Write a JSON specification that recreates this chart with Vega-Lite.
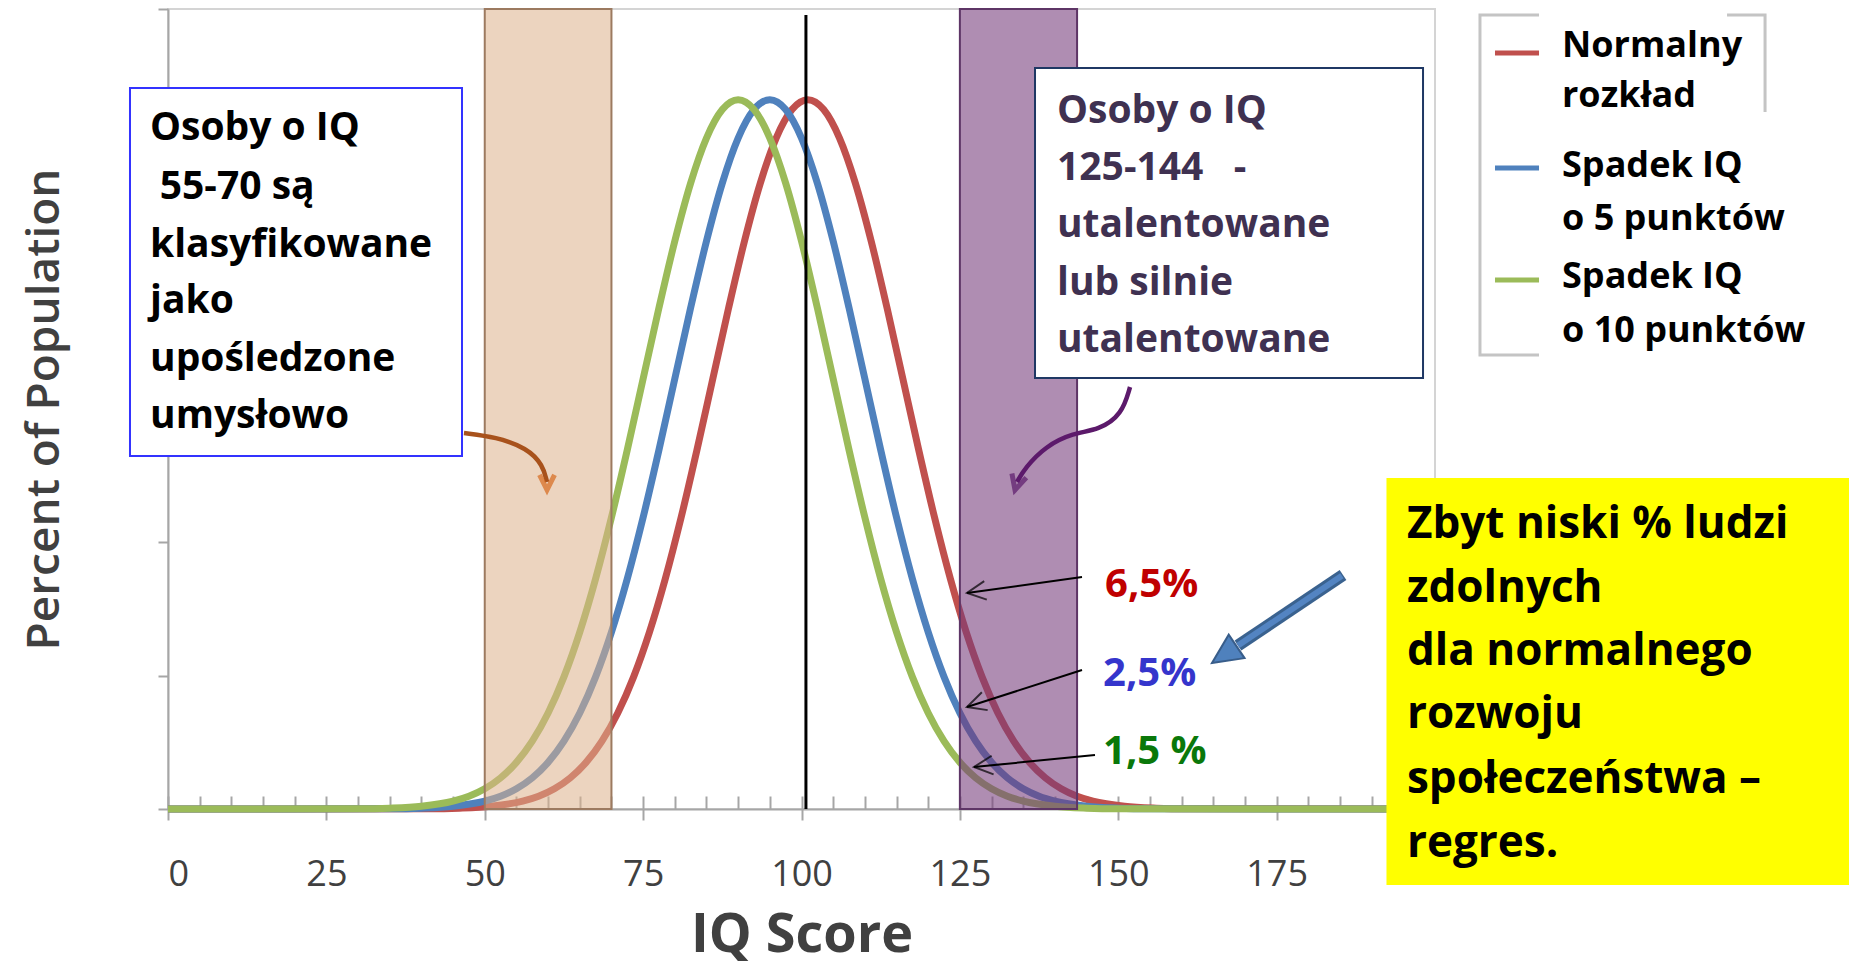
{
  "$schema": "https://vega.github.io/schema/vega-lite/v6.json",
  "width": 1267,
  "height": 800,
  "autosize": {"type": "none"},
  "padding": {"left": 168, "top": 9, "right": 414, "bottom": 158},
  "background": "white",
  "config": {"view": {"stroke": "#d4d4d4", "strokeWidth": 2}, "font": "Open Sans"},
  "resolve": {"axis": {"x": "independent", "y": "independent"}, "scale": {"color": "independent"}},
  "layer": [
    {
      "data": {"values": [
        {"s": "Normalny rozkład", "iq": 0, "p": 0},
        {"s": "Normalny rozkład", "iq": 41, "p": 0.000009},
        {"s": "Normalny rozkład", "iq": 46, "p": 0.000032},
        {"s": "Normalny rozkład", "iq": 51, "p": 0.000103},
        {"s": "Normalny rozkład", "iq": 56, "p": 0.000295},
        {"s": "Normalny rozkład", "iq": 58.5, "p": 0.00048},
        {"s": "Normalny rozkład", "iq": 61, "p": 0.00076},
        {"s": "Normalny rozkład", "iq": 63.5, "p": 0.001169},
        {"s": "Normalny rozkład", "iq": 66, "p": 0.001748},
        {"s": "Normalny rozkład", "iq": 68.5, "p": 0.002543},
        {"s": "Normalny rozkład", "iq": 71, "p": 0.003599},
        {"s": "Normalny rozkład", "iq": 73.5, "p": 0.004954},
        {"s": "Normalny rozkład", "iq": 76, "p": 0.006632},
        {"s": "Normalny rozkład", "iq": 78.5, "p": 0.008634},
        {"s": "Normalny rozkład", "iq": 81, "p": 0.010934},
        {"s": "Normalny rozkład", "iq": 83.5, "p": 0.013467},
        {"s": "Normalny rozkład", "iq": 86, "p": 0.016131},
        {"s": "Normalny rozkład", "iq": 88.5, "p": 0.018794},
        {"s": "Normalny rozkład", "iq": 91, "p": 0.021296},
        {"s": "Normalny rozkład", "iq": 93.5, "p": 0.023471},
        {"s": "Normalny rozkład", "iq": 96, "p": 0.025159},
        {"s": "Normalny rozkład", "iq": 98.5, "p": 0.026229},
        {"s": "Normalny rozkład", "iq": 101, "p": 0.026596},
        {"s": "Normalny rozkład", "iq": 103.5, "p": 0.026229},
        {"s": "Normalny rozkład", "iq": 106, "p": 0.025159},
        {"s": "Normalny rozkład", "iq": 108.5, "p": 0.023471},
        {"s": "Normalny rozkład", "iq": 111, "p": 0.021296},
        {"s": "Normalny rozkład", "iq": 113.5, "p": 0.018794},
        {"s": "Normalny rozkład", "iq": 116, "p": 0.016131},
        {"s": "Normalny rozkład", "iq": 118.5, "p": 0.013467},
        {"s": "Normalny rozkład", "iq": 121, "p": 0.010934},
        {"s": "Normalny rozkład", "iq": 123.5, "p": 0.008634},
        {"s": "Normalny rozkład", "iq": 126, "p": 0.006632},
        {"s": "Normalny rozkład", "iq": 128.5, "p": 0.004954},
        {"s": "Normalny rozkład", "iq": 131, "p": 0.003599},
        {"s": "Normalny rozkład", "iq": 133.5, "p": 0.002543},
        {"s": "Normalny rozkład", "iq": 136, "p": 0.001748},
        {"s": "Normalny rozkład", "iq": 138.5, "p": 0.001169},
        {"s": "Normalny rozkład", "iq": 141, "p": 0.00076},
        {"s": "Normalny rozkład", "iq": 143.5, "p": 0.00048},
        {"s": "Normalny rozkład", "iq": 146, "p": 0.000295},
        {"s": "Normalny rozkład", "iq": 151, "p": 0.000103},
        {"s": "Normalny rozkład", "iq": 156, "p": 0.000032},
        {"s": "Normalny rozkład", "iq": 161, "p": 0.000009},
        {"s": "Normalny rozkład", "iq": 200, "p": 0},
        {"s": "Spadek IQ o 5 punktów", "iq": 0, "p": 0},
        {"s": "Spadek IQ o 5 punktów", "iq": 35, "p": 0.000009},
        {"s": "Spadek IQ o 5 punktów", "iq": 40, "p": 0.000032},
        {"s": "Spadek IQ o 5 punktów", "iq": 45, "p": 0.000103},
        {"s": "Spadek IQ o 5 punktów", "iq": 50, "p": 0.000295},
        {"s": "Spadek IQ o 5 punktów", "iq": 52.5, "p": 0.00048},
        {"s": "Spadek IQ o 5 punktów", "iq": 55, "p": 0.00076},
        {"s": "Spadek IQ o 5 punktów", "iq": 57.5, "p": 0.001169},
        {"s": "Spadek IQ o 5 punktów", "iq": 60, "p": 0.001748},
        {"s": "Spadek IQ o 5 punktów", "iq": 62.5, "p": 0.002543},
        {"s": "Spadek IQ o 5 punktów", "iq": 65, "p": 0.003599},
        {"s": "Spadek IQ o 5 punktów", "iq": 67.5, "p": 0.004954},
        {"s": "Spadek IQ o 5 punktów", "iq": 70, "p": 0.006632},
        {"s": "Spadek IQ o 5 punktów", "iq": 72.5, "p": 0.008634},
        {"s": "Spadek IQ o 5 punktów", "iq": 75, "p": 0.010934},
        {"s": "Spadek IQ o 5 punktów", "iq": 77.5, "p": 0.013467},
        {"s": "Spadek IQ o 5 punktów", "iq": 80, "p": 0.016131},
        {"s": "Spadek IQ o 5 punktów", "iq": 82.5, "p": 0.018794},
        {"s": "Spadek IQ o 5 punktów", "iq": 85, "p": 0.021296},
        {"s": "Spadek IQ o 5 punktów", "iq": 87.5, "p": 0.023471},
        {"s": "Spadek IQ o 5 punktów", "iq": 90, "p": 0.025159},
        {"s": "Spadek IQ o 5 punktów", "iq": 92.5, "p": 0.026229},
        {"s": "Spadek IQ o 5 punktów", "iq": 95, "p": 0.026596},
        {"s": "Spadek IQ o 5 punktów", "iq": 97.5, "p": 0.026229},
        {"s": "Spadek IQ o 5 punktów", "iq": 100, "p": 0.025159},
        {"s": "Spadek IQ o 5 punktów", "iq": 102.5, "p": 0.023471},
        {"s": "Spadek IQ o 5 punktów", "iq": 105, "p": 0.021296},
        {"s": "Spadek IQ o 5 punktów", "iq": 107.5, "p": 0.018794},
        {"s": "Spadek IQ o 5 punktów", "iq": 110, "p": 0.016131},
        {"s": "Spadek IQ o 5 punktów", "iq": 112.5, "p": 0.013467},
        {"s": "Spadek IQ o 5 punktów", "iq": 115, "p": 0.010934},
        {"s": "Spadek IQ o 5 punktów", "iq": 117.5, "p": 0.008634},
        {"s": "Spadek IQ o 5 punktów", "iq": 120, "p": 0.006632},
        {"s": "Spadek IQ o 5 punktów", "iq": 122.5, "p": 0.004954},
        {"s": "Spadek IQ o 5 punktów", "iq": 125, "p": 0.003599},
        {"s": "Spadek IQ o 5 punktów", "iq": 127.5, "p": 0.002543},
        {"s": "Spadek IQ o 5 punktów", "iq": 130, "p": 0.001748},
        {"s": "Spadek IQ o 5 punktów", "iq": 132.5, "p": 0.001169},
        {"s": "Spadek IQ o 5 punktów", "iq": 135, "p": 0.00076},
        {"s": "Spadek IQ o 5 punktów", "iq": 137.5, "p": 0.00048},
        {"s": "Spadek IQ o 5 punktów", "iq": 140, "p": 0.000295},
        {"s": "Spadek IQ o 5 punktów", "iq": 145, "p": 0.000103},
        {"s": "Spadek IQ o 5 punktów", "iq": 150, "p": 0.000032},
        {"s": "Spadek IQ o 5 punktów", "iq": 155, "p": 0.000009},
        {"s": "Spadek IQ o 5 punktów", "iq": 200, "p": 0},
        {"s": "Spadek IQ o 10 punktów", "iq": 0, "p": 0},
        {"s": "Spadek IQ o 10 punktów", "iq": 30, "p": 0.000009},
        {"s": "Spadek IQ o 10 punktów", "iq": 35, "p": 0.000032},
        {"s": "Spadek IQ o 10 punktów", "iq": 40, "p": 0.000103},
        {"s": "Spadek IQ o 10 punktów", "iq": 45, "p": 0.000295},
        {"s": "Spadek IQ o 10 punktów", "iq": 47.5, "p": 0.00048},
        {"s": "Spadek IQ o 10 punktów", "iq": 50, "p": 0.00076},
        {"s": "Spadek IQ o 10 punktów", "iq": 52.5, "p": 0.001169},
        {"s": "Spadek IQ o 10 punktów", "iq": 55, "p": 0.001748},
        {"s": "Spadek IQ o 10 punktów", "iq": 57.5, "p": 0.002543},
        {"s": "Spadek IQ o 10 punktów", "iq": 60, "p": 0.003599},
        {"s": "Spadek IQ o 10 punktów", "iq": 62.5, "p": 0.004954},
        {"s": "Spadek IQ o 10 punktów", "iq": 65, "p": 0.006632},
        {"s": "Spadek IQ o 10 punktów", "iq": 67.5, "p": 0.008634},
        {"s": "Spadek IQ o 10 punktów", "iq": 70, "p": 0.010934},
        {"s": "Spadek IQ o 10 punktów", "iq": 72.5, "p": 0.013467},
        {"s": "Spadek IQ o 10 punktów", "iq": 75, "p": 0.016131},
        {"s": "Spadek IQ o 10 punktów", "iq": 77.5, "p": 0.018794},
        {"s": "Spadek IQ o 10 punktów", "iq": 80, "p": 0.021296},
        {"s": "Spadek IQ o 10 punktów", "iq": 82.5, "p": 0.023471},
        {"s": "Spadek IQ o 10 punktów", "iq": 85, "p": 0.025159},
        {"s": "Spadek IQ o 10 punktów", "iq": 87.5, "p": 0.026229},
        {"s": "Spadek IQ o 10 punktów", "iq": 90, "p": 0.026596},
        {"s": "Spadek IQ o 10 punktów", "iq": 92.5, "p": 0.026229},
        {"s": "Spadek IQ o 10 punktów", "iq": 95, "p": 0.025159},
        {"s": "Spadek IQ o 10 punktów", "iq": 97.5, "p": 0.023471},
        {"s": "Spadek IQ o 10 punktów", "iq": 100, "p": 0.021296},
        {"s": "Spadek IQ o 10 punktów", "iq": 102.5, "p": 0.018794},
        {"s": "Spadek IQ o 10 punktów", "iq": 105, "p": 0.016131},
        {"s": "Spadek IQ o 10 punktów", "iq": 107.5, "p": 0.013467},
        {"s": "Spadek IQ o 10 punktów", "iq": 110, "p": 0.010934},
        {"s": "Spadek IQ o 10 punktów", "iq": 112.5, "p": 0.008634},
        {"s": "Spadek IQ o 10 punktów", "iq": 115, "p": 0.006632},
        {"s": "Spadek IQ o 10 punktów", "iq": 117.5, "p": 0.004954},
        {"s": "Spadek IQ o 10 punktów", "iq": 120, "p": 0.003599},
        {"s": "Spadek IQ o 10 punktów", "iq": 122.5, "p": 0.002543},
        {"s": "Spadek IQ o 10 punktów", "iq": 125, "p": 0.001748},
        {"s": "Spadek IQ o 10 punktów", "iq": 127.5, "p": 0.001169},
        {"s": "Spadek IQ o 10 punktów", "iq": 130, "p": 0.00076},
        {"s": "Spadek IQ o 10 punktów", "iq": 132.5, "p": 0.00048},
        {"s": "Spadek IQ o 10 punktów", "iq": 135, "p": 0.000295},
        {"s": "Spadek IQ o 10 punktów", "iq": 140, "p": 0.000103},
        {"s": "Spadek IQ o 10 punktów", "iq": 145, "p": 0.000032},
        {"s": "Spadek IQ o 10 punktów", "iq": 150, "p": 0.000009},
        {"s": "Spadek IQ o 10 punktów", "iq": 200, "p": 0}
      ]},
      "mark": {"type": "line", "strokeWidth": 7, "interpolate": "monotone"},
      "encoding": {
        "x": {"field": "iq", "type": "quantitative", "scale": {"domain": [0, 200], "nice": false, "zero": false},
          "axis": {"orient": "bottom", "values": [0, 25, 50, 75, 100, 125, 150, 175], "title": "IQ Score", "grid": false,
            "labelFont": "Open Sans", "labelFontSize": 36, "labelColor": "#404040", "labelPadding": 37,
            "tickSize": 11, "tickWidth": 2, "tickColor": "#a6a6a6", "domainColor": "#a6a6a6", "domainWidth": 2,
            "titleFont": "Open Sans", "titleFontSize": 54, "titleFontWeight": "bold", "titleColor": "#404040", "titlePadding": 16}},
        "y": {"field": "p", "type": "quantitative", "scale": {"domain": [0, 0.03], "nice": false},
          "axis": {"orient": "left", "values": [0, 0.005, 0.01, 0.015, 0.02, 0.025, 0.03], "labels": false, "grid": false,
            "tickSize": 10, "tickWidth": 2, "tickColor": "#a6a6a6", "domainColor": "#a6a6a6", "domainWidth": 2,
            "title": "Percent of Population", "titleFont": "Open Sans", "titleFontSize": 46, "titleFontWeight": 600,
            "titleColor": "#404040", "titlePadding": 89}},
        "color": {"field": "s", "type": "nominal", "legend": null,
          "scale": {"domain": ["Normalny rozkład", "Spadek IQ o 5 punktów", "Spadek IQ o 10 punktów"], "range": ["#c0504d", "#4f81bd", "#9bbb59"]}}
      }
    },
    {
      "data": {"values": [{"a": 50, "b": 70, "c": 0, "d": 0.03}]},
      "mark": {"type": "rect", "fill": "#dcb08a", "fillOpacity": 0.55, "stroke": "#9c7a60", "strokeWidth": 2},
      "encoding": {
        "x": {"field": "a", "type": "quantitative", "scale": {"domain": [0, 200], "nice": false, "zero": false},
          "axis": {"orient": "bottom", "values": [0,5,10,15,20,25,30,35,40,45,50,55,60,65,70,75,80,85,90,95,100,105,110,115,120,125,130,135,140,145,150,155,160,165,170,175,180,185,190,195,200],
            "labels": false, "domain": false, "grid": false, "title": null, "tickSize": -13, "tickWidth": 2, "tickColor": "#a6a6a6"}},
        "x2": {"field": "b"},
        "y": {"field": "c", "type": "quantitative", "scale": {"domain": [0, 0.03], "nice": false}, "axis": null},
        "y2": {"field": "d"}
      }
    },
    {
      "data": {"values": [{"a": 125, "b": 143.5, "c": 0, "d": 0.03}]},
      "mark": {"type": "rect", "fill": "#753b7b", "fillOpacity": 0.58, "stroke": "#5e3566", "strokeWidth": 2},
      "encoding": {
        "x": {"field": "a", "type": "quantitative", "scale": {"domain": [0, 200], "nice": false, "zero": false}, "axis": null},
        "x2": {"field": "b"},
        "y": {"field": "c", "type": "quantitative", "scale": {"domain": [0, 0.03], "nice": false}, "axis": null},
        "y2": {"field": "d"}
      }
    },
    {
      "data": {"values": [{"a": 100.7, "c": 0, "d": 0.029775}]},
      "mark": {"type": "rule", "color": "black", "strokeWidth": 3},
      "encoding": {
        "x": {"field": "a", "type": "quantitative", "scale": {"domain": [0, 200], "nice": false, "zero": false}, "axis": null},
        "y": {"field": "c", "type": "quantitative", "scale": {"domain": [0, 0.03], "nice": false}, "axis": null},
        "y2": {"field": "d"}
      }
    },
    {
      "data": {"values": [{"a": -6.0, "b": 46.41, "c": 0.013238, "d": 0.027038}]},
      "mark": {"type": "rect", "fill": "white", "stroke": "#3333ff", "strokeWidth": 2},
      "encoding": {
        "x": {"field": "a", "type": "quantitative", "scale": {"domain": [0, 200], "nice": false, "zero": false}, "axis": null},
        "x2": {"field": "b"},
        "y": {"field": "c", "type": "quantitative", "scale": {"domain": [0, 0.03], "nice": false}, "axis": null},
        "y2": {"field": "d"}
      }
    },
    {
      "data": {"values": [
        {"x": -2.84, "y": 0.025088, "t": "Osoby o IQ"},
        {"x": -1.3, "y": 0.022875, "t": "55-70 są"},
        {"x": -2.84, "y": 0.0207, "t": "klasyfikowane"},
        {"x": -2.84, "y": 0.0186, "t": "jako"},
        {"x": -2.84, "y": 0.016425, "t": "upośledzone"},
        {"x": -2.84, "y": 0.014288, "t": "umysłowo"}
      ]},
      "mark": {"type": "text", "align": "left", "baseline": "alphabetic", "font": "Open Sans", "fontWeight": "bold", "fontSize": 39, "color": "black"},
      "encoding": {
        "x": {"field": "x", "type": "quantitative", "scale": {"domain": [0, 200], "nice": false, "zero": false}, "axis": null},
        "y": {"field": "y", "type": "quantitative", "scale": {"domain": [0, 0.03], "nice": false}, "axis": null},
        "text": {"field": "t"}
      }
    },
    {
      "data": {"values": [{"a": 136.86, "b": 198.11, "c": 0.016163, "d": 0.027788}]},
      "mark": {"type": "rect", "fill": "white", "stroke": "#1f3864", "strokeWidth": 2},
      "encoding": {
        "x": {"field": "a", "type": "quantitative", "scale": {"domain": [0, 200], "nice": false, "zero": false}, "axis": null},
        "x2": {"field": "b"},
        "y": {"field": "c", "type": "quantitative", "scale": {"domain": [0, 0.03], "nice": false}, "axis": null},
        "y2": {"field": "d"}
      }
    },
    {
      "data": {"values": [
        {"x": 140.33, "y": 0.025725, "t": "Osoby o IQ"},
        {"x": 140.33, "y": 0.023588, "t": "125-144\u00a0\u00a0\u00a0-"},
        {"x": 140.33, "y": 0.02145, "t": "utalentowane"},
        {"x": 140.33, "y": 0.019275, "t": "lub silnie"},
        {"x": 140.33, "y": 0.017138, "t": "utalentowane"}
      ]},
      "mark": {"type": "text", "align": "left", "baseline": "alphabetic", "font": "Open Sans", "fontWeight": "bold", "fontSize": 39, "color": "#3f3151"},
      "encoding": {
        "x": {"field": "x", "type": "quantitative", "scale": {"domain": [0, 200], "nice": false, "zero": false}, "axis": null},
        "y": {"field": "y", "type": "quantitative", "scale": {"domain": [0, 0.03], "nice": false}, "axis": null},
        "text": {"field": "t"}
      }
    },
    {
      "data": {"values": [
        {"i": 1, "x": 46.72, "y": 0.0141},
        {"i": 2, "x": 51.78, "y": 0.01395},
        {"i": 3, "x": 56.67, "y": 0.013538},
        {"i": 4, "x": 59.19, "y": 0.0129},
        {"i": 5, "x": 59.83, "y": 0.012263}
      ]},
      "mark": {"type": "line", "color": "#a8521c", "strokeWidth": 4.5, "interpolate": "basis"},
      "encoding": {
        "x": {"field": "x", "type": "quantitative", "scale": {"domain": [0, 200], "nice": false, "zero": false}, "axis": null},
        "y": {"field": "y", "type": "quantitative", "scale": {"domain": [0, 0.03], "nice": false}, "axis": null},
        "order": {"field": "i"}
      }
    },
    {
      "data": {"values": [{"x": 59.83, "y": 0.011963}]},
      "mark": {"type": "point", "shape": "M-0.5,1L0,0L0.5,1", "filled": false, "stroke": "#d86a1e", "strokeWidth": 5, "size": 900, "angle": 180},
      "encoding": {
        "x": {"field": "x", "type": "quantitative", "scale": {"domain": [0, 200], "nice": false, "zero": false}, "axis": null},
        "y": {"field": "y", "type": "quantitative", "scale": {"domain": [0, 0.03], "nice": false}, "axis": null}
      }
    },
    {
      "data": {"values": [
        {"i": 1, "x": 151.86, "y": 0.015825},
        {"i": 2, "x": 150.6, "y": 0.0148},
        {"i": 3, "x": 146.96, "y": 0.014213},
        {"i": 4, "x": 142.86, "y": 0.0141},
        {"i": 5, "x": 138.5, "y": 0.0136},
        {"i": 6, "x": 135.28, "y": 0.012788},
        {"i": 7, "x": 134.02, "y": 0.012263}
      ]},
      "mark": {"type": "line", "color": "#5c1a6b", "strokeWidth": 4.5, "interpolate": "basis"},
      "encoding": {
        "x": {"field": "x", "type": "quantitative", "scale": {"domain": [0, 200], "nice": false, "zero": false}, "axis": null},
        "y": {"field": "y", "type": "quantitative", "scale": {"domain": [0, 0.03], "nice": false}, "axis": null},
        "order": {"field": "i"}
      }
    },
    {
      "data": {"values": [{"x": 133.7, "y": 0.011963}]},
      "mark": {"type": "point", "shape": "M-0.5,1L0,0L0.5,1", "filled": false, "stroke": "#5c1a6b", "strokeWidth": 5, "size": 900, "angle": 196},
      "encoding": {
        "x": {"field": "x", "type": "quantitative", "scale": {"domain": [0, 200], "nice": false, "zero": false}, "axis": null},
        "y": {"field": "y", "type": "quantitative", "scale": {"domain": [0, 0.03], "nice": false}, "axis": null}
      }
    },
    {
      "data": {"values": [
        {"x": 144.28, "y": 0.0087, "x2": 126.12, "y2": 0.0081},
        {"x": 144.28, "y": 0.005213, "x2": 126.12, "y2": 0.003825},
        {"x": 146.33, "y": 0.002025, "x2": 127.23, "y2": 0.001575}
      ]},
      "mark": {"type": "rule", "color": "black", "strokeWidth": 2},
      "encoding": {
        "x": {"field": "x", "type": "quantitative", "scale": {"domain": [0, 200], "nice": false, "zero": false}, "axis": null},
        "x2": {"field": "x2"},
        "y": {"field": "y", "type": "quantitative", "scale": {"domain": [0, 0.03], "nice": false}, "axis": null},
        "y2": {"field": "y2"}
      }
    },
    {
      "data": {"values": [{"x": 126.12, "y": 0.0081}]},
      "mark": {"type": "point", "shape": "M-0.5,1L0,0L0.5,1", "filled": false, "stroke": "black", "strokeWidth": 2, "size": 1400, "angle": 262},
      "encoding": {
        "x": {"field": "x", "type": "quantitative", "scale": {"domain": [0, 200], "nice": false, "zero": false}, "axis": null},
        "y": {"field": "y", "type": "quantitative", "scale": {"domain": [0, 0.03], "nice": false}, "axis": null}
      }
    },
    {
      "data": {"values": [{"x": 126.12, "y": 0.003825}]},
      "mark": {"type": "point", "shape": "M-0.5,1L0,0L0.5,1", "filled": false, "stroke": "black", "strokeWidth": 2, "size": 1400, "angle": 252},
      "encoding": {
        "x": {"field": "x", "type": "quantitative", "scale": {"domain": [0, 200], "nice": false, "zero": false}, "axis": null},
        "y": {"field": "y", "type": "quantitative", "scale": {"domain": [0, 0.03], "nice": false}, "axis": null}
      }
    },
    {
      "data": {"values": [{"x": 127.23, "y": 0.001575}]},
      "mark": {"type": "point", "shape": "M-0.5,1L0,0L0.5,1", "filled": false, "stroke": "black", "strokeWidth": 2, "size": 1400, "angle": 264},
      "encoding": {
        "x": {"field": "x", "type": "quantitative", "scale": {"domain": [0, 200], "nice": false, "zero": false}, "axis": null},
        "y": {"field": "y", "type": "quantitative", "scale": {"domain": [0, 0.03], "nice": false}, "axis": null}
      }
    },
    {
      "data": {"values": [
        {"x": 147.91, "y": 0.00795, "t": "6,5%"},
        {"x": 147.6, "y": 0.004613, "t": "2,5%"},
        {"x": 147.6, "y": 0.001688, "t": "1,5 %"}
      ]},
      "mark": {"type": "text", "align": "left", "baseline": "alphabetic", "font": "Open Sans", "fontWeight": "bold", "fontSize": 40},
      "encoding": {
        "x": {"field": "x", "type": "quantitative", "scale": {"domain": [0, 200], "nice": false, "zero": false}, "axis": null},
        "y": {"field": "y", "type": "quantitative", "scale": {"domain": [0, 0.03], "nice": false}, "axis": null},
        "text": {"field": "t"},
        "color": {"field": "t", "type": "nominal", "legend": null, "scale": {"domain": ["6,5%", "2,5%", "1,5 %"], "range": ["#c00000", "#3535cc", "#0a780a"]}}
      }
    },
    {
      "data": {"values": [{"x": 185.48, "y": 0.008775, "x2": 168.9, "y2": 0.00613}]},
      "mark": {"type": "rule", "color": "#3a628f", "strokeWidth": 12, "strokeCap": "butt"},
      "encoding": {
        "x": {"field": "x", "type": "quantitative", "scale": {"domain": [0, 200], "nice": false, "zero": false}, "axis": null},
        "x2": {"field": "x2"},
        "y": {"field": "y", "type": "quantitative", "scale": {"domain": [0, 0.03], "nice": false}, "axis": null},
        "y2": {"field": "y2"}
      }
    },
    {
      "data": {"values": [{"x": 185.3, "y": 0.00875, "x2": 168.9, "y2": 0.00613}]},
      "mark": {"type": "rule", "color": "#5384c2", "strokeWidth": 6, "strokeCap": "butt"},
      "encoding": {
        "x": {"field": "x", "type": "quantitative", "scale": {"domain": [0, 200], "nice": false, "zero": false}, "axis": null},
        "x2": {"field": "x2"},
        "y": {"field": "y", "type": "quantitative", "scale": {"domain": [0, 0.03], "nice": false}, "axis": null},
        "y2": {"field": "y2"}
      }
    },
    {
      "data": {"values": [{"x": 164.8, "y": 0.005475}]},
      "mark": {"type": "point", "shape": "M0,0L-1,2.1L1,2.1Z", "filled": true, "fill": "#4f81bd", "stroke": "#385d8a", "strokeWidth": 2, "opacity": 1, "size": 800, "angle": 236},
      "encoding": {
        "x": {"field": "x", "type": "quantitative", "scale": {"domain": [0, 200], "nice": false, "zero": false}, "axis": null},
        "y": {"field": "y", "type": "quantitative", "scale": {"domain": [0, 0.03], "nice": false}, "axis": null}
      }
    },
    {
      "data": {"values": [{"a": 192.34, "b": 266, "c": -0.00285, "d": 0.012413}]},
      "mark": {"type": "rect", "fill": "#ffff00"},
      "encoding": {
        "x": {"field": "a", "type": "quantitative", "scale": {"domain": [0, 200], "nice": false, "zero": false}, "axis": null},
        "x2": {"field": "b"},
        "y": {"field": "c", "type": "quantitative", "scale": {"domain": [0, 0.03], "nice": false}, "axis": null},
        "y2": {"field": "d"}
      }
    },
    {
      "data": {"values": [
        {"x": 195.58, "y": 0.010163, "t": "Zbyt niski % ludzi"},
        {"x": 195.58, "y": 0.007763, "t": "zdolnych"},
        {"x": 195.58, "y": 0.0054, "t": "dla normalnego"},
        {"x": 195.58, "y": 0.003038, "t": "rozwoju"},
        {"x": 195.58, "y": 0.0006, "t": "społeczeństwa –"},
        {"x": 195.58, "y": -0.0018, "t": "regres."}
      ]},
      "mark": {"type": "text", "align": "left", "baseline": "alphabetic", "font": "Open Sans", "fontWeight": "bold", "fontSize": 44, "color": "black"},
      "encoding": {
        "x": {"field": "x", "type": "quantitative", "scale": {"domain": [0, 200], "nice": false, "zero": false}, "axis": null},
        "y": {"field": "y", "type": "quantitative", "scale": {"domain": [0, 0.03], "nice": false}, "axis": null},
        "text": {"field": "t"}
      }
    },
    {
      "data": {"values": [{"a": 207.1, "b": 252.1, "c": 0.017025, "d": 0.029775}]},
      "mark": {"type": "rect", "fill": "white", "stroke": "#c4c4c4", "strokeWidth": 3},
      "encoding": {
        "x": {"field": "a", "type": "quantitative", "scale": {"domain": [0, 200], "nice": false, "zero": false}, "axis": null},
        "x2": {"field": "b"},
        "y": {"field": "c", "type": "quantitative", "scale": {"domain": [0, 0.03], "nice": false}, "axis": null},
        "y2": {"field": "d"}
      }
    },
    {
      "data": {"values": [
        {"a": 216.42, "b": 246.1, "c": 0.016763, "d": 0.0302},
        {"a": 216.42, "b": 254, "c": 0.016763, "d": 0.026138}
      ]},
      "mark": {"type": "rect", "fill": "white"},
      "encoding": {
        "x": {"field": "a", "type": "quantitative", "scale": {"domain": [0, 200], "nice": false, "zero": false}, "axis": null},
        "x2": {"field": "b"},
        "y": {"field": "c", "type": "quantitative", "scale": {"domain": [0, 0.03], "nice": false}, "axis": null},
        "y2": {"field": "d"}
      }
    },
    {
      "data": {"values": [
        {"s": "Normalny rozkład", "a": 209.47, "b": 216.42, "y": 0.02835},
        {"s": "Spadek IQ o 5 punktów", "a": 209.47, "b": 216.42, "y": 0.024038},
        {"s": "Spadek IQ o 10 punktów", "a": 209.47, "b": 216.42, "y": 0.019838}
      ]},
      "mark": {"type": "rule", "strokeWidth": 5},
      "encoding": {
        "x": {"field": "a", "type": "quantitative", "scale": {"domain": [0, 200], "nice": false, "zero": false}, "axis": null},
        "x2": {"field": "b"},
        "y": {"field": "y", "type": "quantitative", "scale": {"domain": [0, 0.03], "nice": false}, "axis": null},
        "color": {"field": "s", "type": "nominal", "legend": null,
          "scale": {"domain": ["Normalny rozkład", "Spadek IQ o 5 punktów", "Spadek IQ o 10 punktów"], "range": ["#c0504d", "#4f81bd", "#9bbb59"]}}
      }
    },
    {
      "data": {"values": [
        {"x": 220.05, "y": 0.0282, "t": "Normalny"},
        {"x": 220.05, "y": 0.026325, "t": "rozkład"},
        {"x": 220.05, "y": 0.0237, "t": "Spadek IQ"},
        {"x": 220.05, "y": 0.021713, "t": "o 5 punktów"},
        {"x": 220.05, "y": 0.019538, "t": "Spadek IQ"},
        {"x": 220.05, "y": 0.017513, "t": "o 10 punktów"}
      ]},
      "mark": {"type": "text", "align": "left", "baseline": "alphabetic", "font": "Open Sans", "fontWeight": "bold", "fontSize": 36, "color": "black"},
      "encoding": {
        "x": {"field": "x", "type": "quantitative", "scale": {"domain": [0, 200], "nice": false, "zero": false}, "axis": null},
        "y": {"field": "y", "type": "quantitative", "scale": {"domain": [0, 0.03], "nice": false}, "axis": null},
        "text": {"field": "t"}
      }
    }
  ]
}
